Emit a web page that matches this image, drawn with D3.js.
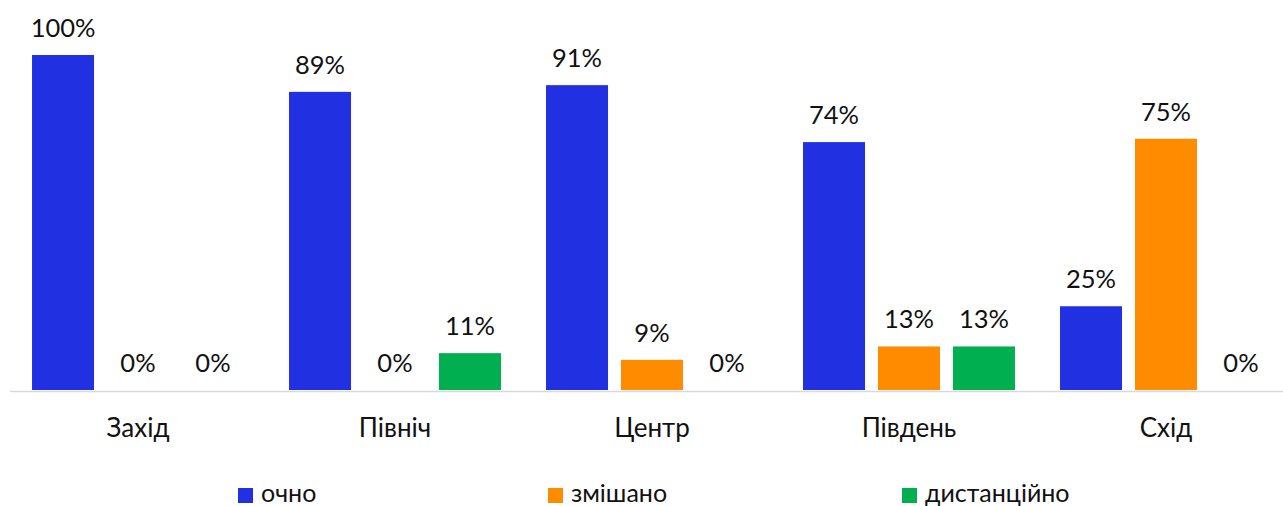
<!DOCTYPE html>
<html>
<head>
<meta charset="utf-8">
<script src="https://cdn.jsdelivr.net/npm/d3@7"></script>
<style>
  body { margin: 0; background: #fff; }
  svg text { font-family: Lato, "Noto Sans", sans-serif; fill: #111; }
</style>
</head>
<body>
<svg width="1283" height="506"></svg>
<script>
var regions = ["Захід", "Північ", "Центр", "Південь", "Схід"];
var seriesNames = ["очно", "змішано", "дистанційно"];
var colors = ["#2130e0", "#ff8c00", "#00b050"];
// values in %, one array per series
var ochno = [100, 89, 91, 74, 25];
var zmishano = [0, 0, 9, 13, 75];
var dystantsiyno = [0, 11, 0, 13, 0];
var allSeries = [ochno, zmishano, dystantsiyno];

var svg = d3.select("svg");
var baseY = 390;

var x0 = d3.scaleBand().domain(regions).range([9.5, 1294.5]);
var x1 = d3.scaleBand().domain(seriesNames).range([0, 225]).paddingInner(0.173).paddingOuter(0.087);
var y = d3.scaleLinear().domain([0, 100]).range([baseY, 55]);

var rows = [];
regions.forEach(function(r, i) {
    seriesNames.forEach(function(s, j) {
        rows.push({region: r, series: s, idx: j, value: allSeries[j][i]});
    });
});

var groupOff = (x0.bandwidth() - 225) / 2;

var bars = svg.append("g").selectAll("g")
    .data(rows)
    .enter().append("g")
    .attr("transform", d => "translate(" + (x0(d.region) + groupOff + x1(d.series)) + ",0)");

bars.append("rect")
    .attr("x", 0)
    .attr("width", x1.bandwidth())
    .attr("y", d => y(d.value))
    .attr("height", d => baseY - y(d.value))
    .attr("fill", d => colors[d.idx]);

bars.append("text")
    .attr("x", x1.bandwidth() / 2)
    .attr("y", d => y(d.value) - 18)
    .attr("text-anchor", "middle")
    .attr("font-size", 25.5)
    .text(d => d.value + "%");

// axis
var axis = svg.append("g")
    .attr("transform", "translate(0," + (baseY + 1) + ")")
    .call(d3.axisBottom(x0).tickSize(0).tickPadding(28));
axis.select(".domain").attr("stroke", "#d9d9d9").attr("stroke-width", 1.5);
axis.selectAll(".tick text")
    .attr("font-size", 26)
    .attr("font-family", "Lato, 'Noto Sans', sans-serif")
    .attr("fill", "#111");

// legend
var legendX = [238, 548, 902];
var legend = svg.append("g").selectAll("g")
    .data(seriesNames)
    .enter().append("g")
    .attr("transform", (d, i) => "translate(" + legendX[i] + ",488)");
legend.append("rect")
    .attr("width", 15).attr("height", 15)
    .attr("fill", (d, i) => colors[i]);
legend.append("text")
    .attr("x", 23).attr("y", 14)
    .attr("font-size", 25)
    .text(d => d);
</script>
</body>
</html>
